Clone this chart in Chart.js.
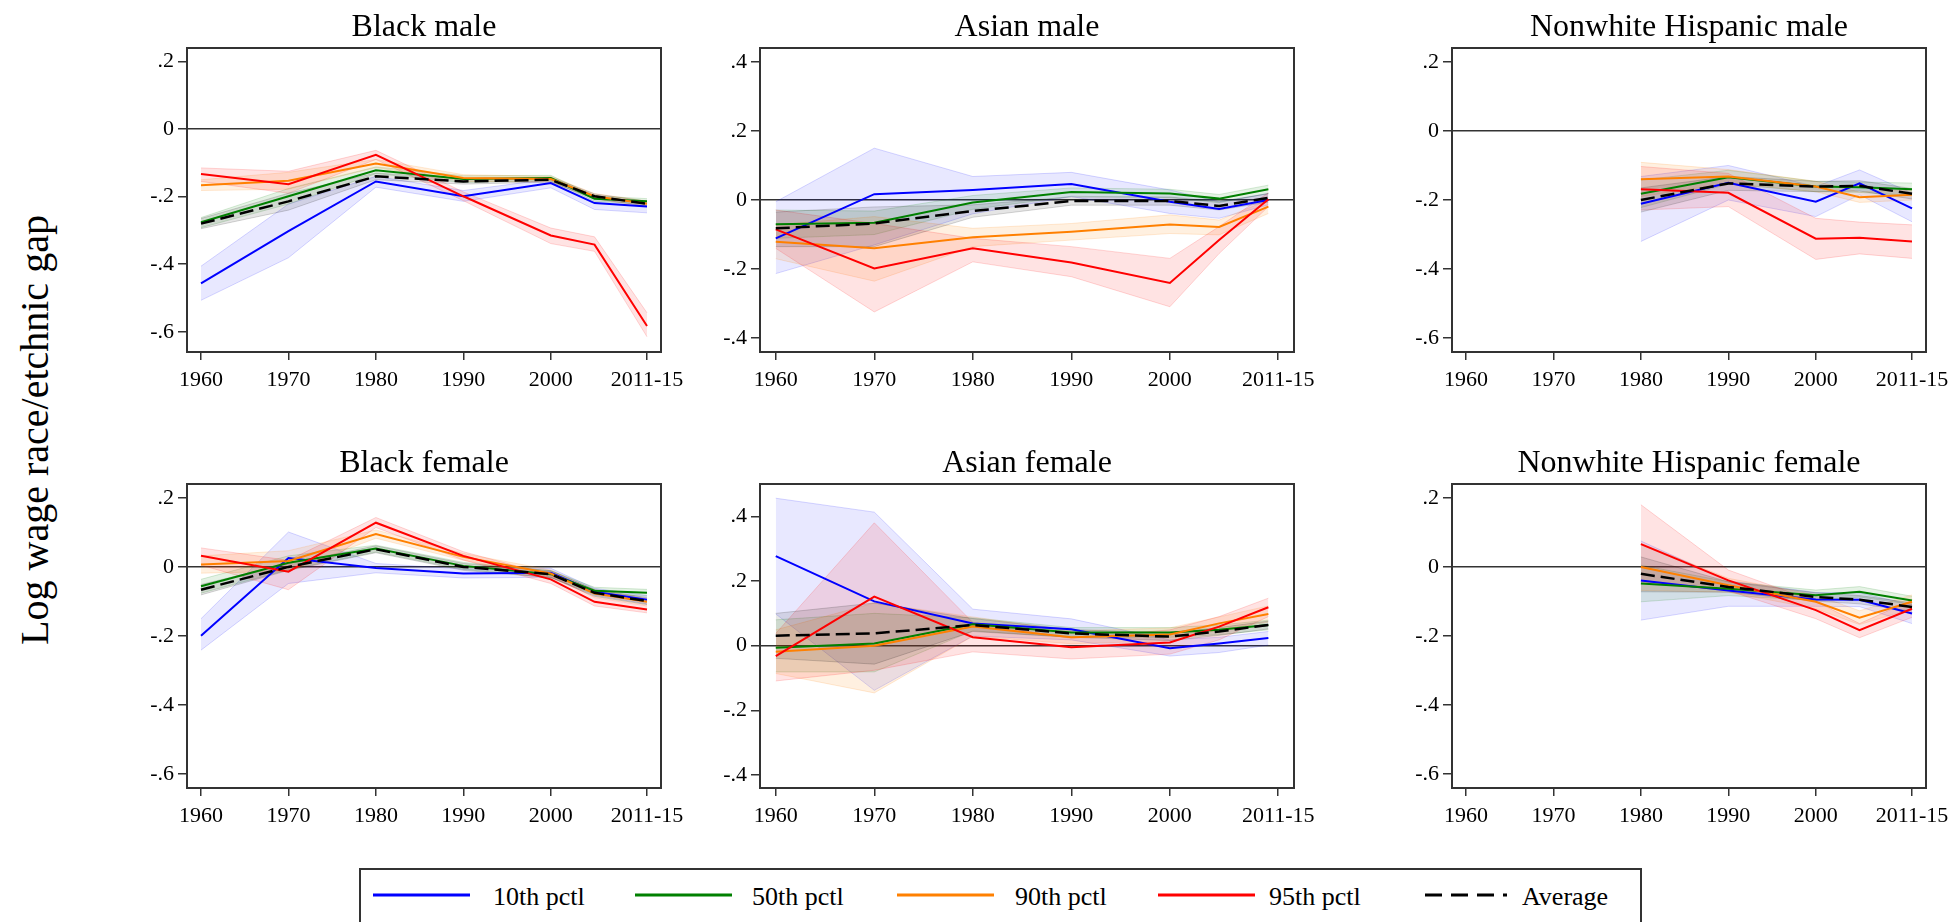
<!DOCTYPE html>
<html>
<head>
<meta charset="utf-8">
<script src="https://cdn.jsdelivr.net/npm/chart.js@4.4.1/dist/chart.umd.min.js"></script>
<style>
  html, body { margin:0; padding:0; background:#fff; }
  body { width:1954px; height:922px; position:relative; overflow:hidden; font-family:'Liberation Serif','Times New Roman',serif; }
  .panel { position:absolute; }
  #ylabel { position:absolute; left:34px; top:430px; transform:translate(-50%,-50%) rotate(-90deg); font-size:40px; white-space:nowrap; color:#000; }
  #legend { position:absolute; left:359px; top:868px; width:1283px; height:56px; border:2px solid #333; box-sizing:border-box; }
  .litem svg { position:absolute; top:21px; }
  .litem span { position:absolute; top:14px; font-size:26px; line-height:26px; white-space:nowrap; color:#000; }
</style>
</head>
<body>
<div id="ylabel">Log wage race/etchnic gap</div>
<div id="legend"></div>
<script>
// ---------- shared axis data ----------
const yearsStd   = [1960, 1970, 1980, 1990, 2000, 2005, 2011];
const yearsAsian = [1960, 1970, 1980, 1990, 2000, 2005, 2010];
const yearsHisp  = [1980, 1990, 2000, 2005, 2011];
const xTickValues = [1960, 1970, 1980, 1990, 2000, 2011];
const xTickLabels = ['1960', '1970', '1980', '1990', '2000', '2011-15'];
const yTicksWide  = [0.2, 0, -0.2, -0.4, -0.6];
const yTicksAsian = [0.4, 0.2, 0, -0.2, -0.4];
const legendLabels = ['10th pctl', '50th pctl', '90th pctl', '95th pctl', 'Average'];
const panelTitles = ['Black male', 'Asian male', 'Nonwhite Hispanic male', 'Black female', 'Asian female', 'Nonwhite Hispanic female'];

// ---------- Black male ----------
const bm_p10   = [-0.457, -0.302, -0.155, -0.199, -0.160, -0.219, -0.229];
const bm_p10lo = [-0.507, -0.381, -0.172, -0.214, -0.174, -0.238, -0.248];
const bm_p10hi = [-0.406, -0.222, -0.140, -0.182, -0.148, -0.205, -0.215];
const bm_p50   = [-0.276, -0.199, -0.122, -0.148, -0.145, -0.206, -0.214];
const bm_p50lo = [-0.292, -0.222, -0.132, -0.158, -0.153, -0.214, -0.222];
const bm_p50hi = [-0.262, -0.176, -0.112, -0.138, -0.137, -0.198, -0.206];
const bm_p90   = [-0.166, -0.153, -0.102, -0.145, -0.148, -0.199, -0.221];
const bm_p90lo = [-0.182, -0.178, -0.114, -0.155, -0.156, -0.207, -0.229];
const bm_p90hi = [-0.150, -0.128, -0.090, -0.135, -0.140, -0.191, -0.213];
const bm_p95   = [-0.133, -0.163, -0.076, -0.199, -0.315, -0.342, -0.583];
const bm_p95lo = [-0.155, -0.190, -0.090, -0.212, -0.339, -0.362, -0.615];
const bm_p95hi = [-0.115, -0.125, -0.063, -0.186, -0.293, -0.319, -0.544];
const bm_avg   = [-0.280, -0.214, -0.140, -0.155, -0.150, -0.199, -0.221];
const bm_avglo = [-0.295, -0.240, -0.150, -0.163, -0.157, -0.206, -0.228];
const bm_avghi = [-0.265, -0.190, -0.130, -0.147, -0.143, -0.192, -0.214];

// ---------- Asian male ----------
const am_p10   = [-0.111, 0.017, 0.029, 0.046, -0.005, -0.026, 0.000];
const am_p10lo = [-0.213, -0.130, -0.040, 0.010, -0.039, -0.053, -0.014];
const am_p10hi = [-0.005, 0.150, 0.068, 0.080, 0.029, -0.005, 0.019];
const am_p50   = [-0.070, -0.066, -0.007, 0.023, 0.019, 0.004, 0.031];
const am_p50lo = [-0.111, -0.100, -0.027, 0.011, 0.007, -0.008, 0.019];
const am_p50hi = [-0.029, -0.032, 0.013, 0.035, 0.031, 0.016, 0.043];
const am_p90   = [-0.121, -0.140, -0.108, -0.092, -0.071, -0.078, -0.019];
const am_p90lo = [-0.170, -0.235, -0.135, -0.116, -0.097, -0.101, -0.039];
const am_p90hi = [-0.072, -0.048, -0.082, -0.068, -0.043, -0.058, 0.000];
const am_p95   = [-0.085, -0.198, -0.140, -0.181, -0.240, -0.116, 0.002];
const am_p95lo = [-0.140, -0.324, -0.179, -0.222, -0.309, -0.155, -0.019];
const am_p95hi = [-0.029, -0.068, -0.111, -0.135, -0.169, -0.077, 0.021];
const am_avg   = [-0.082, -0.068, -0.032, -0.003, -0.003, -0.017, 0.006];
const am_avglo = [-0.135, -0.135, -0.050, -0.015, -0.015, -0.029, -0.006];
const am_avghi = [-0.035, -0.020, -0.014, 0.009, 0.009, -0.005, 0.018];

// ---------- Nonwhite Hispanic male ----------
const hm_p10   = [-0.211, -0.150, -0.205, -0.152, -0.224];
const hm_p10lo = [-0.320, -0.200, -0.248, -0.185, -0.263];
const hm_p10hi = [-0.132, -0.100, -0.161, -0.113, -0.180];
const hm_p50   = [-0.182, -0.134, -0.161, -0.163, -0.169];
const hm_p50lo = [-0.222, -0.154, -0.176, -0.178, -0.187];
const hm_p50hi = [-0.142, -0.114, -0.146, -0.148, -0.151];
const hm_p90   = [-0.140, -0.132, -0.161, -0.192, -0.185];
const hm_p90lo = [-0.190, -0.152, -0.176, -0.207, -0.200];
const hm_p90hi = [-0.091, -0.112, -0.146, -0.177, -0.170];
const hm_p95   = [-0.169, -0.179, -0.312, -0.309, -0.320];
const hm_p95lo = [-0.229, -0.219, -0.372, -0.356, -0.369];
const hm_p95hi = [-0.103, -0.123, -0.253, -0.264, -0.272];
const hm_avg   = [-0.200, -0.152, -0.161, -0.159, -0.182];
const hm_avglo = [-0.235, -0.172, -0.176, -0.174, -0.197];
const hm_avghi = [-0.165, -0.132, -0.146, -0.144, -0.167];

// ---------- Black female ----------
const bf_p10   = [-0.199, 0.026, -0.003, -0.019, -0.017, -0.072, -0.095];
const bf_p10lo = [-0.241, -0.048, -0.017, -0.032, -0.030, -0.082, -0.107];
const bf_p10hi = [-0.150, 0.101, 0.010, -0.006, -0.004, -0.062, -0.083];
const bf_p50   = [-0.056, 0.012, 0.053, 0.003, -0.021, -0.069, -0.075];
const bf_p50lo = [-0.076, -0.008, 0.043, -0.007, -0.031, -0.079, -0.085];
const bf_p50hi = [-0.036, 0.032, 0.063, 0.013, -0.011, -0.059, -0.065];
const bf_p90   = [0.007, 0.017, 0.095, 0.029, -0.019, -0.077, -0.101];
const bf_p90lo = [-0.018, -0.013, 0.083, 0.019, -0.029, -0.087, -0.111];
const bf_p90hi = [0.032, 0.047, 0.107, 0.039, -0.009, -0.067, -0.091];
const bf_p95   = [0.032, -0.014, 0.128, 0.032, -0.036, -0.101, -0.123];
const bf_p95lo = [0.005, -0.066, 0.114, 0.020, -0.048, -0.113, -0.133];
const bf_p95hi = [0.055, 0.019, 0.143, 0.044, -0.024, -0.089, -0.113];
const bf_avg   = [-0.066, 0.000, 0.051, 0.000, -0.021, -0.075, -0.099];
const bf_avglo = [-0.081, -0.010, 0.041, -0.010, -0.031, -0.085, -0.109];
const bf_avghi = [-0.051, 0.010, 0.061, 0.010, -0.011, -0.065, -0.089];

// ---------- Asian female ----------
const af_p10   = [0.277, 0.137, 0.069, 0.051, -0.008, 0.007, 0.024];
const af_p10lo = [0.098, -0.138, 0.030, 0.018, -0.032, -0.021, 0.002];
const af_p10hi = [0.456, 0.413, 0.113, 0.083, 0.018, 0.026, 0.044];
const af_p50   = [-0.006, 0.007, 0.066, 0.041, 0.041, 0.049, 0.064];
const af_p50lo = [-0.081, -0.081, 0.046, 0.026, 0.026, 0.034, 0.049];
const af_p50hi = [0.080, 0.100, 0.086, 0.056, 0.056, 0.064, 0.079];
const af_p90   = [-0.019, 0.000, 0.059, 0.026, 0.035, 0.069, 0.098];
const af_p90lo = [-0.086, -0.146, 0.029, 0.006, 0.015, 0.049, 0.073];
const af_p90hi = [0.049, 0.132, 0.089, 0.046, 0.055, 0.089, 0.123];
const af_p95   = [-0.032, 0.152, 0.026, -0.005, 0.010, 0.059, 0.119];
const af_p95lo = [-0.109, -0.076, -0.019, -0.041, -0.026, 0.018, 0.090];
const af_p95hi = [0.038, 0.380, 0.072, 0.023, 0.049, 0.090, 0.147];
const af_avg   = [0.031, 0.038, 0.064, 0.038, 0.028, 0.044, 0.064];
const af_avglo = [-0.039, -0.057, 0.044, 0.026, 0.016, 0.032, 0.052];
const af_avghi = [0.100, 0.132, 0.084, 0.050, 0.040, 0.056, 0.076];

// ---------- Nonwhite Hispanic female ----------
const hf_p10   = [-0.039, -0.068, -0.094, -0.095, -0.135];
const hf_p10lo = [-0.154, -0.114, -0.114, -0.115, -0.164];
const hf_p10hi = [0.075, -0.040, -0.074, -0.075, -0.110];
const hf_p50   = [-0.048, -0.063, -0.082, -0.072, -0.097];
const hf_p50lo = [-0.101, -0.083, -0.097, -0.087, -0.109];
const hf_p50hi = [0.005, -0.043, -0.067, -0.057, -0.085];
const hf_p90   = [0.000, -0.053, -0.101, -0.147, -0.101];
const hf_p90lo = [-0.068, -0.073, -0.121, -0.167, -0.121];
const hf_p90hi = [0.068, -0.033, -0.081, -0.127, -0.081];
const hf_p95   = [0.066, -0.039, -0.125, -0.183, -0.121];
const hf_p95lo = [-0.043, -0.069, -0.150, -0.205, -0.146];
const hf_p95hi = [0.180, -0.009, -0.100, -0.164, -0.096];
const hf_avg   = [-0.020, -0.058, -0.087, -0.095, -0.116];
const hf_avglo = [-0.072, -0.073, -0.099, -0.107, -0.128];
const hf_avghi = [0.029, -0.043, -0.075, -0.083, -0.104];

// ---------- styles ----------
const FONT = "'Liberation Serif', 'Times New Roman', serif";
const seriesRGB = ['0,0,255', '0,128,0', '255,128,0', '255,0,0', '0,0,0'];
const bandAlpha = [0.09, 0.10, 0.12, 0.11, 0.10];

const panels = [
  { title: panelTitles[0], xs: yearsStd,   yMin: -0.66, yMax: 0.24, yTicks: yTicksWide,
    s: [[bm_p10, bm_p10lo, bm_p10hi], [bm_p50, bm_p50lo, bm_p50hi], [bm_p90, bm_p90lo, bm_p90hi], [bm_p95, bm_p95lo, bm_p95hi], [bm_avg, bm_avglo, bm_avghi]],
    left: 187, top: 48, w: 474 },
  { title: panelTitles[1], xs: yearsAsian, yMin: -0.44, yMax: 0.44, yTicks: yTicksAsian,
    s: [[am_p10, am_p10lo, am_p10hi], [am_p50, am_p50lo, am_p50hi], [am_p90, am_p90lo, am_p90hi], [am_p95, am_p95lo, am_p95hi], [am_avg, am_avglo, am_avghi]],
    left: 760, top: 48, w: 534 },
  { title: panelTitles[2], xs: yearsHisp,  yMin: -0.64, yMax: 0.24, yTicks: yTicksWide,
    s: [[hm_p10, hm_p10lo, hm_p10hi], [hm_p50, hm_p50lo, hm_p50hi], [hm_p90, hm_p90lo, hm_p90hi], [hm_p95, hm_p95lo, hm_p95hi], [hm_avg, hm_avglo, hm_avghi]],
    left: 1452, top: 48, w: 474 },
  { title: panelTitles[3], xs: yearsStd,   yMin: -0.64, yMax: 0.24, yTicks: yTicksWide,
    s: [[bf_p10, bf_p10lo, bf_p10hi], [bf_p50, bf_p50lo, bf_p50hi], [bf_p90, bf_p90lo, bf_p90hi], [bf_p95, bf_p95lo, bf_p95hi], [bf_avg, bf_avglo, bf_avghi]],
    left: 187, top: 484, w: 474 },
  { title: panelTitles[4], xs: yearsAsian, yMin: -0.44, yMax: 0.50, yTicks: yTicksAsian,
    s: [[af_p10, af_p10lo, af_p10hi], [af_p50, af_p50lo, af_p50hi], [af_p90, af_p90lo, af_p90hi], [af_p95, af_p95lo, af_p95hi], [af_avg, af_avglo, af_avghi]],
    left: 760, top: 484, w: 534 },
  { title: panelTitles[5], xs: yearsHisp,  yMin: -0.64, yMax: 0.24, yTicks: yTicksWide,
    s: [[hf_p10, hf_p10lo, hf_p10hi], [hf_p50, hf_p50lo, hf_p50hi], [hf_p90, hf_p90lo, hf_p90hi], [hf_p95, hf_p95lo, hf_p95hi], [hf_avg, hf_avglo, hf_avghi]],
    left: 1452, top: 484, w: 474 }
];

const PLOT_H = 304, YAX_W = 60, TITLE_H = 48, XAX_H = 50, PAD_R = 45;

const fmtY = v => {
  if (Math.abs(v) < 1e-9) return '0';
  const s = (Math.round(v * 10) / 10).toString();
  return s.replace('0.', '.');
};

const frame = {
  id: 'frame',
  afterDatasetsDraw(chart) {
    const a = chart.chartArea, c = chart.ctx;
    c.save();
    c.strokeStyle = '#333';
    c.lineWidth = 2;
    c.strokeRect(a.left, a.top, a.right - a.left, a.bottom - a.top);
    c.restore();
  }
};

Chart.defaults.color = '#000';
Chart.defaults.font.family = FONT;

panels.forEach((p, idx) => {
  const div = document.createElement('div');
  div.className = 'panel';
  const W = p.w + YAX_W + PAD_R, H = TITLE_H + PLOT_H + XAX_H;
  div.style.left = (p.left - YAX_W) + 'px';
  div.style.top = (p.top - TITLE_H) + 'px';
  div.style.width = W + 'px';
  div.style.height = H + 'px';
  const cv = document.createElement('canvas');
  div.appendChild(cv);
  document.body.appendChild(div);

  const pts = arr => p.xs.map((x, i) => ({ x: x, y: arr[i] }));
  const datasets = [];
  const lineOrder = [4, 3, 2, 1, 0];
  lineOrder.forEach((k, j) => {
    const rgb = seriesRGB[k];
    datasets.push({
      label: legendLabels[k], data: pts(p.s[k][0]),
      borderColor: k === 4 ? '#000' : 'rgb(' + rgb + ')',
      borderWidth: k === 4 ? 2.5 : 2,
      borderDash: k === 4 ? [14, 6] : [],
      pointRadius: 0, fill: false, tension: 0, order: j
    });
  });
  lineOrder.forEach((k, j) => {
    const rgb = seriesRGB[k];
    datasets.push({
      label: legendLabels[k] + ' hi', data: pts(p.s[k][2]),
      borderColor: 'rgba(' + rgb + ',0.16)', borderWidth: 1,
      backgroundColor: 'rgba(' + rgb + ',' + bandAlpha[k] + ')',
      pointRadius: 0, fill: '+1', tension: 0, order: 10 + j
    });
    datasets.push({
      label: legendLabels[k] + ' lo', data: pts(p.s[k][1]),
      borderColor: 'rgba(' + rgb + ',0.16)', borderWidth: 1,
      pointRadius: 0, fill: false, tension: 0, order: 10 + j
    });
  });

  new Chart(cv, {
    type: 'line',
    data: { datasets: datasets },
    plugins: [frame],
    options: {
      responsive: true, maintainAspectRatio: false, animation: false,
      devicePixelRatio: 1,
      layout: { padding: { left: 0, right: PAD_R, top: 0, bottom: 0 } },
      plugins: {
        legend: { display: false },
        tooltip: { enabled: false },
        title: {
          display: true, text: p.title, fullSize: false, color: '#000',
          font: { family: FONT, size: 32, weight: 'normal', lineHeight: 1.2 },
          padding: { top: 8, bottom: 1.6 }
        },
        filler: { propagate: false }
      },
      scales: {
        x: {
          type: 'linear', min: 1958.4, max: 2012.6,
          afterFit: s => { s.height = XAX_H; },
          afterBuildTicks: s => { s.ticks = xTickValues.map(v => ({ value: v })); },
          ticks: {
            autoSkip: false, maxRotation: 0, padding: 7, color: '#000',
            font: { family: FONT, size: 22 },
            callback: v => xTickLabels[xTickValues.indexOf(v)]
          },
          grid: { drawOnChartArea: false, drawTicks: true, tickLength: 8, tickColor: '#333', lineWidth: 1.5 },
          border: { display: false }
        },
        y: {
          type: 'linear', min: p.yMin, max: p.yMax,
          afterFit: s => { s.width = YAX_W; },
          afterBuildTicks: s => { s.ticks = p.yTicks.map(v => ({ value: v })); },
          ticks: {
            autoSkip: false, padding: 4, color: '#000',
            font: { family: FONT, size: 22 },
            callback: v => fmtY(v)
          },
          grid: {
            drawOnChartArea: true, drawTicks: true, tickLength: 9, tickColor: '#333', lineWidth: 1.5,
            color: c => (c.tick && Math.abs(c.tick.value) < 1e-9) ? '#333' : 'rgba(0,0,0,0)'
          },
          border: { display: false }
        }
      }
    }
  });
});

// ---------- legend ----------
const legend = document.getElementById('legend');
const legLineX = [12, 274, 536, 797, 1064];
const legTextX = [132, 391, 654, 908, 1161];
legendLabels.forEach((lab, k) => {
  const it = document.createElement('div');
  it.className = 'litem';
  const isAvg = k === 4;
  const len = isAvg ? 82 : 97;
  const dash = isAvg ? ' stroke-dasharray="17 9"' : '';
  const col = isAvg ? '#000' : 'rgb(' + seriesRGB[k] + ')';
  it.innerHTML = '<svg style="left:' + legLineX[k] + 'px" width="' + len + '" height="8"><line x1="0" y1="4" x2="' + len + '" y2="4" stroke="' + col + '" stroke-width="3"' + dash + '/></svg>' +
                 '<span style="left:' + legTextX[k] + 'px">' + lab + '</span>';
  legend.appendChild(it);
});
</script>
</body>
</html>
